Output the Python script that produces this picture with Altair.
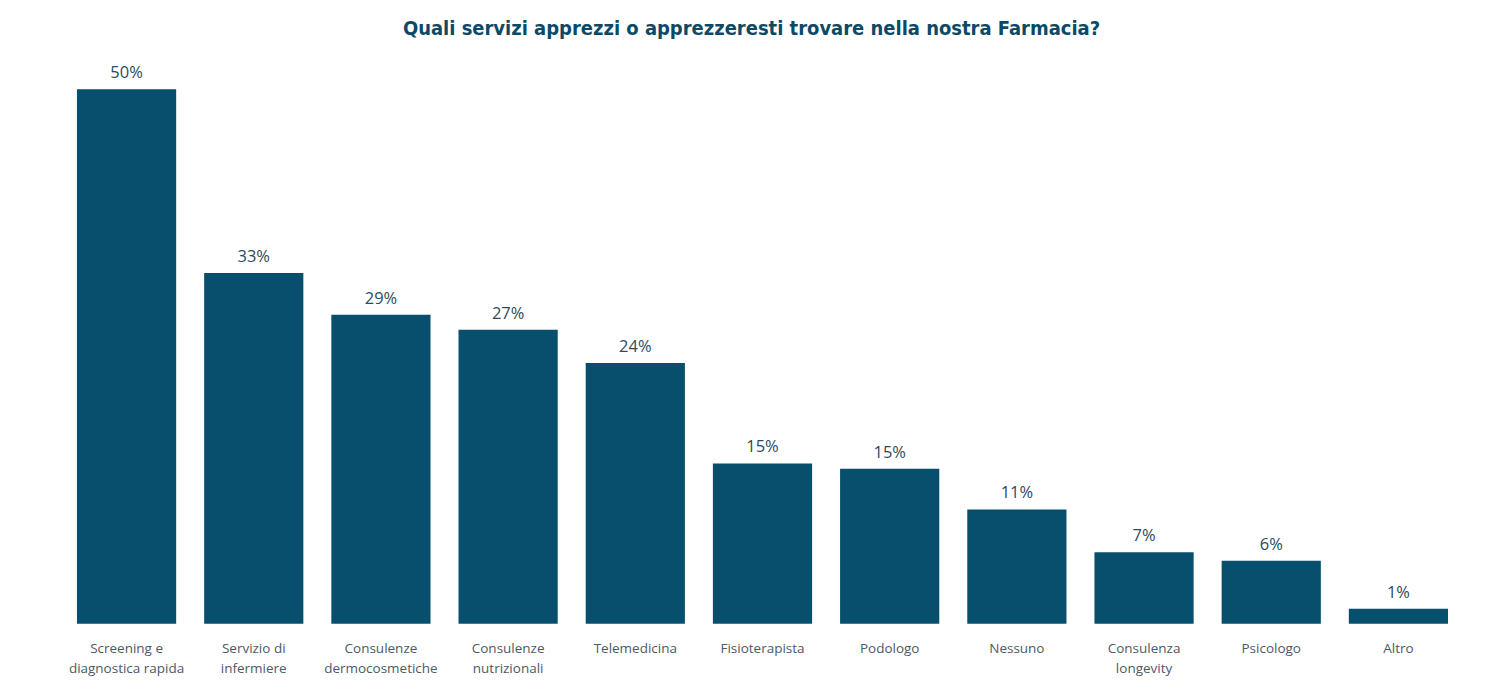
import altair as alt
import pandas as pd

categories = [
    "Screening e|diagnostica rapida",
    "Servizio di|infermiere",
    "Consulenze|dermocosmetiche",
    "Consulenze|nutrizionali",
    "Telemedicina",
    "Fisioterapista",
    "Podologo",
    "Nessuno",
    "Consulenza|longevity",
    "Psicologo",
    "Altro",
]
values = [50.0, 32.8, 28.9, 27.5, 24.4, 15.0, 14.5, 10.7, 6.7, 5.9, 1.4]
labels = ["50%", "33%", "29%", "27%", "24%", "15%", "15%", "11%", "7%", "6%", "1%"]

df = pd.DataFrame({"cat": categories, "val": values, "lab": labels})

x = alt.X(
    "cat:N",
    sort=categories,
    scale=alt.Scale(paddingInner=0.22, paddingOuter=0.11),
    axis=alt.Axis(
        title=None,
        labelAngle=0,
        labelExpr="split(datum.value, '|')",
        labelFont="Open Sans",
        labelFontSize=13.5,
        labelColor="#4b5a65",
        labelPadding=18,
        labelLineHeight=20,
        ticks=False,
        domain=False,
        labelLimit=200,
    ),
)
y = alt.Y("val:Q", scale=alt.Scale(domain=[0, 50], nice=False), axis=None)

bars = alt.Chart(df).mark_bar(color="#084f6e").encode(x=x, y=y)
text = alt.Chart(df).mark_text(
    dy=-8, baseline="bottom", font="Open Sans", fontSize=16.5, color="#2c4b5f"
).encode(x=x, y=y, text="lab:N")

chart = (
    (bars + text)
    .properties(
        width=1400,
        height=535,
        title=alt.TitleParams(
            "Quali servizi apprezzi o apprezzeresti trovare nella nostra Farmacia?",
            font="'DejaVu Sans Condensed', 'Roboto Condensed', Roboto",
            fontSize=20,
            fontWeight="bold",
            color="#0b4a66",
            anchor="middle",
            offset=26,
            dx=-11,
        ),
        autosize=alt.AutoSizeParams(type="none"),
        padding={"left": 55, "top": 81, "right": 30, "bottom": 60},
    )
    .configure_view(stroke=None)
)

chart.save("out.html", embed_options={"renderer": "svg", "actions": False})
